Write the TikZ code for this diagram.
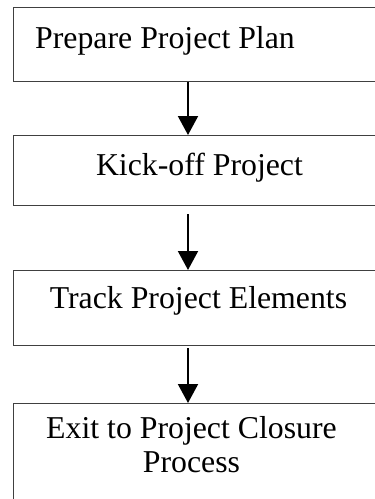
\documentclass[tikz,border=0pt]{standalone}
\usepackage{fontspec}
\setmainfont{Liberation Serif}
\usetikzlibrary{arrows.meta}
\begin{document}
\begin{tikzpicture}[x=1pt,y=-1pt,
  box/.style={draw=black!75,line width=1pt,rectangle,inner sep=0pt,anchor=north west},
  lbl/.style={inner sep=0pt,font=\fontsize{31.8}{34}\selectfont},
  arr/.style={line width=2pt,-{Triangle[width=20pt,length=19pt]}}]
\useasboundingbox (0,0) rectangle (375,499);
\clip (0,0) rectangle (375,499);
\node[box,minimum width=380pt,minimum height=74pt] (b1) at (13,7) {};
\node[box,minimum width=380pt,minimum height=70pt] (b2) at (13,135) {};
\node[box,minimum width=380pt,minimum height=75pt] (b3) at (13,270) {};
\node[box,minimum width=380pt,minimum height=120pt] (b4) at (13,403) {};
\node[lbl,anchor=base west] (t1) at (35,48) {Prepare Project Plan};
\node[lbl,anchor=base] (t2) at (199.5,175) {Kick-off Project};
\node[lbl,anchor=base] (t3) at (198.5,308) {Track Project Elements};
\node[lbl,anchor=base,align=center] (t4) at (191.5,472) {Exit to Project Closure\\Process};
\coordinate (ax) at (188,0);
\draw[arr] (b1.south -| ax) -- (b2.north -| ax);
\draw[arr,shorten <=8pt] (b2.south -| ax) -- (b3.north -| ax);
\draw[arr,shorten <=2pt] (b3.south -| ax) -- (b4.north -| ax);
\end{tikzpicture}
\end{document}
